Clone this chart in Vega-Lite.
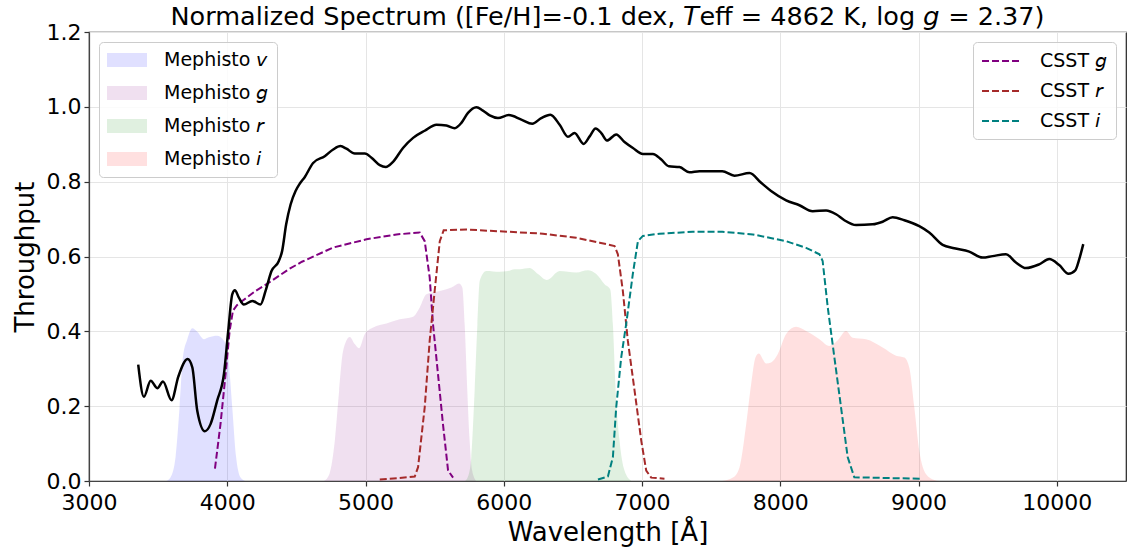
{
  "$schema": "https://vega.github.io/schema/vega-lite/v6.json",
  "width": 1037,
  "height": 449,
  "autosize": {"type": "none"},
  "padding": {"left": 89, "top": 32, "right": 3, "bottom": 76},
  "background": "white",
  "title": {
    "text": "Normalized Spectrum ([Fe/H]=-0.1 dex, 𝘛eff = 4862 K, log 𝘨 = 2.37)",
    "font": "DejaVu Sans",
    "fontSize": 25.5,
    "fontWeight": "normal",
    "color": "black",
    "anchor": "middle",
    "baseline": "alphabetic",
    "offset": -29
  },
  "config": {
    "font": "DejaVu Sans",
    "view": {"stroke": "#222", "strokeWidth": 1.2},
    "axis": {
      "labelFont": "DejaVu Sans",
      "labelFontSize": 22,
      "labelColor": "black",
      "titleFont": "DejaVu Sans",
      "titleFontSize": 26,
      "titleFontWeight": "normal",
      "titleColor": "black",
      "gridColor": "#e5e5e5",
      "gridWidth": 1,
      "domainColor": "#444",
      "domainWidth": 1.2,
      "tickColor": "#333",
      "tickSize": 5,
      "tickWidth": 1.2
    },
    "legend": {
      "labelFont": "DejaVu Sans",
      "labelFontSize": 19,
      "labelColor": "black",
      "fillColor": "rgba(255,255,255,0.85)",
      "strokeColor": "#cccccc",
      "cornerRadius": 4,
      "padding": 8,
      "offset": 10
    }
  },
  "datasets": {
    "spec": [
      {"wavelength": 3356, "throughput": 0.311}, {"wavelength": 3397, "throughput": 0.225}, {"wavelength": 3446, "throughput": 0.268}, {"wavelength": 3494, "throughput": 0.248}, {"wavelength": 3535, "throughput": 0.266}, {"wavelength": 3597, "throughput": 0.216}, {"wavelength": 3646, "throughput": 0.279}, {"wavelength": 3713, "throughput": 0.326}, {"wavelength": 3747, "throughput": 0.304}, {"wavelength": 3783, "throughput": 0.188}, {"wavelength": 3838, "throughput": 0.133}, {"wavelength": 3879, "throughput": 0.152}, {"wavelength": 3927, "throughput": 0.215}, {"wavelength": 3976, "throughput": 0.286}, {"wavelength": 4007, "throughput": 0.401}, {"wavelength": 4036, "throughput": 0.499}, {"wavelength": 4055, "throughput": 0.510}, {"wavelength": 4084, "throughput": 0.490}, {"wavelength": 4120, "throughput": 0.472}, {"wavelength": 4181, "throughput": 0.481}, {"wavelength": 4241, "throughput": 0.472}, {"wavelength": 4277, "throughput": 0.508}, {"wavelength": 4320, "throughput": 0.561}, {"wavelength": 4373, "throughput": 0.588}, {"wavelength": 4397, "throughput": 0.615}, {"wavelength": 4426, "throughput": 0.686}, {"wavelength": 4458, "throughput": 0.739}, {"wavelength": 4494, "throughput": 0.775}, {"wavelength": 4525, "throughput": 0.795}, {"wavelength": 4560, "throughput": 0.812}, {"wavelength": 4621, "throughput": 0.850}, {"wavelength": 4705, "throughput": 0.868}, {"wavelength": 4766, "throughput": 0.886}, {"wavelength": 4819, "throughput": 0.895}, {"wavelength": 4862, "throughput": 0.888}, {"wavelength": 4922, "throughput": 0.875}, {"wavelength": 4995, "throughput": 0.875}, {"wavelength": 5043, "throughput": 0.864}, {"wavelength": 5103, "throughput": 0.844}, {"wavelength": 5146, "throughput": 0.839}, {"wavelength": 5199, "throughput": 0.853}, {"wavelength": 5271, "throughput": 0.890}, {"wavelength": 5344, "throughput": 0.917}, {"wavelength": 5428, "throughput": 0.936}, {"wavelength": 5513, "throughput": 0.952}, {"wavelength": 5585, "throughput": 0.950}, {"wavelength": 5645, "throughput": 0.943}, {"wavelength": 5693, "throughput": 0.957}, {"wavelength": 5741, "throughput": 0.984}, {"wavelength": 5802, "throughput": 0.999}, {"wavelength": 5849, "throughput": 0.990}, {"wavelength": 5898, "throughput": 0.977}, {"wavelength": 5958, "throughput": 0.970}, {"wavelength": 6036, "throughput": 0.978}, {"wavelength": 6127, "throughput": 0.966}, {"wavelength": 6206, "throughput": 0.955}, {"wavelength": 6271, "throughput": 0.970}, {"wavelength": 6337, "throughput": 0.979}, {"wavelength": 6404, "throughput": 0.952}, {"wavelength": 6464, "throughput": 0.920}, {"wavelength": 6512, "throughput": 0.930}, {"wavelength": 6577, "throughput": 0.901}, {"wavelength": 6621, "throughput": 0.921}, {"wavelength": 6664, "throughput": 0.942}, {"wavelength": 6705, "throughput": 0.930}, {"wavelength": 6746, "throughput": 0.910}, {"wavelength": 6813, "throughput": 0.926}, {"wavelength": 6873, "throughput": 0.906}, {"wavelength": 6934, "throughput": 0.890}, {"wavelength": 7006, "throughput": 0.874}, {"wavelength": 7078, "throughput": 0.874}, {"wavelength": 7139, "throughput": 0.859}, {"wavelength": 7194, "throughput": 0.841}, {"wavelength": 7271, "throughput": 0.839}, {"wavelength": 7343, "throughput": 0.825}, {"wavelength": 7415, "throughput": 0.828}, {"wavelength": 7512, "throughput": 0.828}, {"wavelength": 7580, "throughput": 0.828}, {"wavelength": 7668, "throughput": 0.816}, {"wavelength": 7777, "throughput": 0.823}, {"wavelength": 7861, "throughput": 0.797}, {"wavelength": 7933, "throughput": 0.775}, {"wavelength": 8042, "throughput": 0.750}, {"wavelength": 8138, "throughput": 0.737}, {"wavelength": 8234, "throughput": 0.721}, {"wavelength": 8331, "throughput": 0.723}, {"wavelength": 8403, "throughput": 0.713}, {"wavelength": 8463, "throughput": 0.697}, {"wavelength": 8548, "throughput": 0.684}, {"wavelength": 8668, "throughput": 0.686}, {"wavelength": 8740, "throughput": 0.693}, {"wavelength": 8812, "throughput": 0.705}, {"wavelength": 8897, "throughput": 0.697}, {"wavelength": 9005, "throughput": 0.681}, {"wavelength": 9077, "throughput": 0.664}, {"wavelength": 9174, "throughput": 0.631}, {"wavelength": 9258, "throughput": 0.622}, {"wavelength": 9366, "throughput": 0.613}, {"wavelength": 9463, "throughput": 0.597}, {"wavelength": 9535, "throughput": 0.601}, {"wavelength": 9632, "throughput": 0.606}, {"wavelength": 9704, "throughput": 0.584}, {"wavelength": 9776, "throughput": 0.569}, {"wavelength": 9872, "throughput": 0.579}, {"wavelength": 9945, "throughput": 0.593}, {"wavelength": 10017, "throughput": 0.577}, {"wavelength": 10084, "throughput": 0.554}, {"wavelength": 10133, "throughput": 0.563}, {"wavelength": 10162, "throughput": 0.593}, {"wavelength": 10191, "throughput": 0.633}
    ],
    "csst": [
      {"filter": "CSST 𝘨", "wavelength": 3911, "throughput": 0.033}, {"filter": "CSST 𝘨", "wavelength": 3951, "throughput": 0.152}, {"filter": "CSST 𝘨", "wavelength": 3988, "throughput": 0.286}, {"filter": "CSST 𝘨", "wavelength": 4017, "throughput": 0.401}, {"filter": "CSST 𝘨", "wavelength": 4041, "throughput": 0.455}, {"filter": "CSST 𝘨", "wavelength": 4070, "throughput": 0.470}, {"filter": "CSST 𝘨", "wavelength": 4108, "throughput": 0.481}, {"filter": "CSST 𝘨", "wavelength": 4205, "throughput": 0.508}, {"filter": "CSST 𝘨", "wavelength": 4301, "throughput": 0.530}, {"filter": "CSST 𝘨", "wavelength": 4445, "throughput": 0.566}, {"filter": "CSST 𝘨", "wavelength": 4540, "throughput": 0.586}, {"filter": "CSST 𝘨", "wavelength": 4766, "throughput": 0.624}, {"filter": "CSST 𝘨", "wavelength": 5007, "throughput": 0.646}, {"filter": "CSST 𝘨", "wavelength": 5224, "throughput": 0.659}, {"filter": "CSST 𝘨", "wavelength": 5392, "throughput": 0.664}, {"filter": "CSST 𝘨", "wavelength": 5428, "throughput": 0.641}, {"filter": "CSST 𝘨", "wavelength": 5464, "throughput": 0.544}, {"filter": "CSST 𝘨", "wavelength": 5488, "throughput": 0.419}, {"filter": "CSST 𝘨", "wavelength": 5524, "throughput": 0.286}, {"filter": "CSST 𝘨", "wavelength": 5560, "throughput": 0.152}, {"filter": "CSST 𝘨", "wavelength": 5597, "throughput": 0.028}, {"filter": "CSST 𝘨", "wavelength": 5633, "throughput": 0.009},
      {"filter": "CSST 𝘳", "wavelength": 5103, "throughput": 0.004}, {"filter": "CSST 𝘳", "wavelength": 5247, "throughput": 0.008}, {"filter": "CSST 𝘳", "wavelength": 5356, "throughput": 0.012}, {"filter": "CSST 𝘳", "wavelength": 5380, "throughput": 0.037}, {"filter": "CSST 𝘳", "wavelength": 5428, "throughput": 0.197}, {"filter": "CSST 𝘳", "wavelength": 5464, "throughput": 0.375}, {"filter": "CSST 𝘳", "wavelength": 5500, "throughput": 0.508}, {"filter": "CSST 𝘳", "wavelength": 5537, "throughput": 0.641}, {"filter": "CSST 𝘳", "wavelength": 5565, "throughput": 0.670}, {"filter": "CSST 𝘳", "wavelength": 5729, "throughput": 0.672}, {"filter": "CSST 𝘳", "wavelength": 6042, "throughput": 0.666}, {"filter": "CSST 𝘳", "wavelength": 6283, "throughput": 0.661}, {"filter": "CSST 𝘳", "wavelength": 6524, "throughput": 0.650}, {"filter": "CSST 𝘳", "wavelength": 6693, "throughput": 0.637}, {"filter": "CSST 𝘳", "wavelength": 6801, "throughput": 0.628}, {"filter": "CSST 𝘳", "wavelength": 6825, "throughput": 0.606}, {"filter": "CSST 𝘳", "wavelength": 6861, "throughput": 0.508}, {"filter": "CSST 𝘳", "wavelength": 6897, "throughput": 0.375}, {"filter": "CSST 𝘳", "wavelength": 6946, "throughput": 0.241}, {"filter": "CSST 𝘳", "wavelength": 6994, "throughput": 0.108}, {"filter": "CSST 𝘳", "wavelength": 7030, "throughput": 0.028}, {"filter": "CSST 𝘳", "wavelength": 7066, "throughput": 0.009}, {"filter": "CSST 𝘳", "wavelength": 7162, "throughput": 0.006},
      {"filter": "CSST 𝘪", "wavelength": 6681, "throughput": 0.004}, {"filter": "CSST 𝘪", "wavelength": 6753, "throughput": 0.012}, {"filter": "CSST 𝘪", "wavelength": 6789, "throughput": 0.064}, {"filter": "CSST 𝘪", "wavelength": 6813, "throughput": 0.197}, {"filter": "CSST 𝘪", "wavelength": 6849, "throughput": 0.330}, {"filter": "CSST 𝘪", "wavelength": 6885, "throughput": 0.419}, {"filter": "CSST 𝘪", "wavelength": 6933, "throughput": 0.553}, {"filter": "CSST 𝘪", "wavelength": 6970, "throughput": 0.641}, {"filter": "CSST 𝘪", "wavelength": 7006, "throughput": 0.655}, {"filter": "CSST 𝘪", "wavelength": 7126, "throughput": 0.661}, {"filter": "CSST 𝘪", "wavelength": 7367, "throughput": 0.666}, {"filter": "CSST 𝘪", "wavelength": 7580, "throughput": 0.666}, {"filter": "CSST 𝘪", "wavelength": 7801, "throughput": 0.659}, {"filter": "CSST 𝘪", "wavelength": 8042, "throughput": 0.641}, {"filter": "CSST 𝘪", "wavelength": 8186, "throughput": 0.623}, {"filter": "CSST 𝘪", "wavelength": 8283, "throughput": 0.606}, {"filter": "CSST 𝘪", "wavelength": 8306, "throughput": 0.588}, {"filter": "CSST 𝘪", "wavelength": 8343, "throughput": 0.464}, {"filter": "CSST 𝘪", "wavelength": 8391, "throughput": 0.330}, {"filter": "CSST 𝘪", "wavelength": 8439, "throughput": 0.197}, {"filter": "CSST 𝘪", "wavelength": 8487, "throughput": 0.064}, {"filter": "CSST 𝘪", "wavelength": 8535, "throughput": 0.010}, {"filter": "CSST 𝘪", "wavelength": 8764, "throughput": 0.008}, {"filter": "CSST 𝘪", "wavelength": 9029, "throughput": 0.006}
    ],
    "bands": [
      {"band": "Mephisto 𝘷", "wavelength": 3560, "throughput": 0}, {"band": "Mephisto 𝘷", "wavelength": 3590, "throughput": 0.01}, {"band": "Mephisto 𝘷", "wavelength": 3626, "throughput": 0.064}, {"band": "Mephisto 𝘷", "wavelength": 3655, "throughput": 0.197}, {"band": "Mephisto 𝘷", "wavelength": 3679, "throughput": 0.330}, {"band": "Mephisto 𝘷", "wavelength": 3711, "throughput": 0.379}, {"band": "Mephisto 𝘷", "wavelength": 3747, "throughput": 0.408}, {"band": "Mephisto 𝘷", "wavelength": 3783, "throughput": 0.399}, {"band": "Mephisto 𝘷", "wavelength": 3831, "throughput": 0.379}, {"band": "Mephisto 𝘷", "wavelength": 3867, "throughput": 0.384}, {"band": "Mephisto 𝘷", "wavelength": 3927, "throughput": 0.388}, {"band": "Mephisto 𝘷", "wavelength": 3976, "throughput": 0.375}, {"band": "Mephisto 𝘷", "wavelength": 4007, "throughput": 0.330}, {"band": "Mephisto 𝘷", "wavelength": 4036, "throughput": 0.197}, {"band": "Mephisto 𝘷", "wavelength": 4064, "throughput": 0.064}, {"band": "Mephisto 𝘷", "wavelength": 4095, "throughput": 0.01}, {"band": "Mephisto 𝘷", "wavelength": 4130, "throughput": 0},
      {"band": "Mephisto 𝘨", "wavelength": 4700, "throughput": 0}, {"band": "Mephisto 𝘨", "wavelength": 4740, "throughput": 0.02}, {"band": "Mephisto 𝘨", "wavelength": 4778, "throughput": 0.108}, {"band": "Mephisto 𝘨", "wavelength": 4809, "throughput": 0.241}, {"band": "Mephisto 𝘨", "wavelength": 4838, "throughput": 0.348}, {"band": "Mephisto 𝘨", "wavelength": 4886, "throughput": 0.385}, {"band": "Mephisto 𝘨", "wavelength": 4922, "throughput": 0.366}, {"band": "Mephisto 𝘨", "wavelength": 4953, "throughput": 0.355}, {"band": "Mephisto 𝘨", "wavelength": 4995, "throughput": 0.393}, {"band": "Mephisto 𝘨", "wavelength": 5055, "throughput": 0.410}, {"band": "Mephisto 𝘨", "wavelength": 5151, "throughput": 0.421}, {"band": "Mephisto 𝘨", "wavelength": 5247, "throughput": 0.432}, {"band": "Mephisto 𝘨", "wavelength": 5344, "throughput": 0.439}, {"band": "Mephisto 𝘨", "wavelength": 5392, "throughput": 0.464}, {"band": "Mephisto 𝘨", "wavelength": 5440, "throughput": 0.499}, {"band": "Mephisto 𝘨", "wavelength": 5537, "throughput": 0.508}, {"band": "Mephisto 𝘨", "wavelength": 5621, "throughput": 0.517}, {"band": "Mephisto 𝘨", "wavelength": 5676, "throughput": 0.528}, {"band": "Mephisto 𝘨", "wavelength": 5700, "throughput": 0.517}, {"band": "Mephisto 𝘨", "wavelength": 5717, "throughput": 0.419}, {"band": "Mephisto 𝘨", "wavelength": 5736, "throughput": 0.241}, {"band": "Mephisto 𝘨", "wavelength": 5753, "throughput": 0.108}, {"band": "Mephisto 𝘨", "wavelength": 5770, "throughput": 0.03}, {"band": "Mephisto 𝘨", "wavelength": 5800, "throughput": 0},
      {"band": "Mephisto 𝘳", "wavelength": 5720, "throughput": 0}, {"band": "Mephisto 𝘳", "wavelength": 5748, "throughput": 0.02}, {"band": "Mephisto 𝘳", "wavelength": 5765, "throughput": 0.064}, {"band": "Mephisto 𝘳", "wavelength": 5789, "throughput": 0.241}, {"band": "Mephisto 𝘳", "wavelength": 5809, "throughput": 0.419}, {"band": "Mephisto 𝘳", "wavelength": 5826, "throughput": 0.535}, {"band": "Mephisto 𝘳", "wavelength": 5874, "throughput": 0.561}, {"band": "Mephisto 𝘳", "wavelength": 5970, "throughput": 0.559}, {"band": "Mephisto 𝘳", "wavelength": 6030, "throughput": 0.561}, {"band": "Mephisto 𝘳", "wavelength": 6078, "throughput": 0.566}, {"band": "Mephisto 𝘳", "wavelength": 6115, "throughput": 0.566}, {"band": "Mephisto 𝘳", "wavelength": 6187, "throughput": 0.569}, {"band": "Mephisto 𝘳", "wavelength": 6247, "throughput": 0.553}, {"band": "Mephisto 𝘳", "wavelength": 6312, "throughput": 0.537}, {"band": "Mephisto 𝘳", "wavelength": 6404, "throughput": 0.561}, {"band": "Mephisto 𝘳", "wavelength": 6524, "throughput": 0.557}, {"band": "Mephisto 𝘳", "wavelength": 6608, "throughput": 0.563}, {"band": "Mephisto 𝘳", "wavelength": 6669, "throughput": 0.553}, {"band": "Mephisto 𝘳", "wavelength": 6729, "throughput": 0.526}, {"band": "Mephisto 𝘳", "wavelength": 6770, "throughput": 0.512}, {"band": "Mephisto 𝘳", "wavelength": 6789, "throughput": 0.419}, {"band": "Mephisto 𝘳", "wavelength": 6809, "throughput": 0.241}, {"band": "Mephisto 𝘳", "wavelength": 6837, "throughput": 0.108}, {"band": "Mephisto 𝘳", "wavelength": 6873, "throughput": 0.028}, {"band": "Mephisto 𝘳", "wavelength": 6922, "throughput": 0},
      {"band": "Mephisto 𝘪", "wavelength": 7580, "throughput": 0}, {"band": "Mephisto 𝘪", "wavelength": 7660, "throughput": 0.01}, {"band": "Mephisto 𝘪", "wavelength": 7705, "throughput": 0.037}, {"band": "Mephisto 𝘪", "wavelength": 7753, "throughput": 0.152}, {"band": "Mephisto 𝘪", "wavelength": 7789, "throughput": 0.259}, {"band": "Mephisto 𝘪", "wavelength": 7820, "throughput": 0.330}, {"band": "Mephisto 𝘪", "wavelength": 7844, "throughput": 0.341}, {"band": "Mephisto 𝘪", "wavelength": 7897, "throughput": 0.314}, {"band": "Mephisto 𝘪", "wavelength": 7933, "throughput": 0.317}, {"band": "Mephisto 𝘪", "wavelength": 7981, "throughput": 0.339}, {"band": "Mephisto 𝘪", "wavelength": 8042, "throughput": 0.393}, {"band": "Mephisto 𝘪", "wavelength": 8114, "throughput": 0.412}, {"band": "Mephisto 𝘪", "wavelength": 8186, "throughput": 0.401}, {"band": "Mephisto 𝘪", "wavelength": 8283, "throughput": 0.379}, {"band": "Mephisto 𝘪", "wavelength": 8355, "throughput": 0.361}, {"band": "Mephisto 𝘪", "wavelength": 8415, "throughput": 0.376}, {"band": "Mephisto 𝘪", "wavelength": 8475, "throughput": 0.401}, {"band": "Mephisto 𝘪", "wavelength": 8523, "throughput": 0.383}, {"band": "Mephisto 𝘪", "wavelength": 8620, "throughput": 0.379}, {"band": "Mephisto 𝘪", "wavelength": 8740, "throughput": 0.357}, {"band": "Mephisto 𝘪", "wavelength": 8837, "throughput": 0.335}, {"band": "Mephisto 𝘪", "wavelength": 8897, "throughput": 0.330}, {"band": "Mephisto 𝘪", "wavelength": 8933, "throughput": 0.303}, {"band": "Mephisto 𝘪", "wavelength": 8969, "throughput": 0.197}, {"band": "Mephisto 𝘪", "wavelength": 9005, "throughput": 0.081}, {"band": "Mephisto 𝘪", "wavelength": 9053, "throughput": 0.019}, {"band": "Mephisto 𝘪", "wavelength": 9114, "throughput": 0.003}, {"band": "Mephisto 𝘪", "wavelength": 9150, "throughput": 0}
    ]
  },
  "layer": [
    {
      "data": {"name": "bands"},
      "mark": {"type": "area", "interpolate": "monotone", "fillOpacity": 0.12},
      "encoding": {
        "x": {"field": "wavelength", "type": "quantitative", "title": "Wavelength [Å]",
              "scale": {"domain": [3000, 10500], "nice": false, "zero": false},
              "axis": {"values": [3000, 4000, 5000, 6000, 7000, 8000, 9000, 10000], "format": "d", "labelPadding": 6, "titlePadding": 6, "labelFlush": false}},
        "y": {"field": "throughput", "type": "quantitative", "title": "Throughput", "stack": null,
              "scale": {"domain": [0, 1.2], "nice": false},
              "axis": {"values": [0, 0.2, 0.4, 0.6, 0.8, 1.0, 1.2], "format": ".1f", "labelPadding": 3, "titlePadding": 8, "labelFlush": false}},
        "fill": {"field": "band", "type": "nominal",
                 "scale": {"domain": ["Mephisto 𝘷", "Mephisto 𝘨", "Mephisto 𝘳", "Mephisto 𝘪"], "range": ["#0000ff", "#800080", "#008000", "#ff0000"]},
                 "legend": {"title": null, "orient": "top-left", "symbolType": "M-1,-0.7H3V0.7H-1Z", "symbolSize": 400, "symbolOpacity": 0.12, "symbolStrokeWidth": 0, "labelOffset": 37, "rowPadding": 13}}
      }
    },
    {
      "data": {"name": "csst"},
      "mark": {"type": "line", "strokeWidth": 2, "strokeDash": [7, 3]},
      "encoding": {
        "x": {"field": "wavelength", "type": "quantitative", "title": "Wavelength [Å]"},
        "y": {"field": "throughput", "type": "quantitative", "title": "Throughput"},
        "stroke": {"field": "filter", "type": "nominal",
                   "scale": {"domain": ["CSST 𝘨", "CSST 𝘳", "CSST 𝘪"], "range": ["#800080", "#a52a2a", "#008080"]},
                   "legend": {"title": null, "orient": "top-right", "symbolType": "M-1,0H3", "symbolSize": 400, "symbolDash": [7, 3], "symbolStrokeWidth": 2, "symbolFillColor": "transparent", "labelOffset": 37, "rowPadding": 9}}
      }
    },
    {
      "data": {"name": "spec"},
      "mark": {"type": "line", "color": "black", "strokeWidth": 2.5, "interpolate": "monotone"},
      "encoding": {
        "x": {"field": "wavelength", "type": "quantitative", "title": "Wavelength [Å]"},
        "y": {"field": "throughput", "type": "quantitative", "title": "Throughput"}
      }
    }
  ]
}
